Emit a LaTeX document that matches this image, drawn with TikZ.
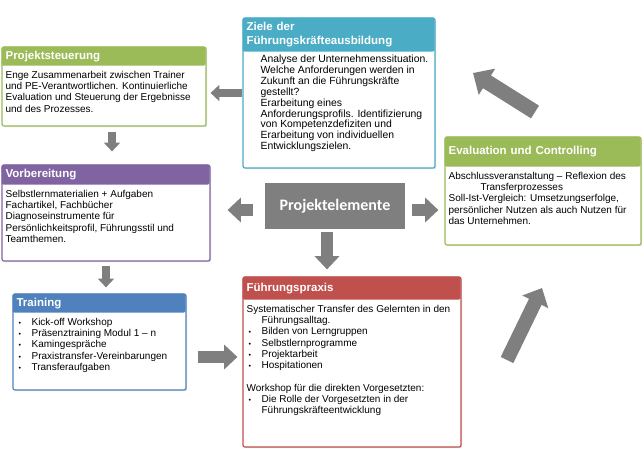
\documentclass[tikz,border=0pt]{standalone}
\usepackage{fontspec}
\setmainfont{Liberation Sans}
\newfontfamily\calfont{Carlito}
\usetikzlibrary{arrows.meta,shadows}
\definecolor{cgreen}{HTML}{9BBB59}
\definecolor{cpurple}{HTML}{8064A2}
\definecolor{cblue}{HTML}{4F81BD}
\definecolor{cred}{HTML}{C0504D}
\definecolor{caqua}{HTML}{4BACC6}
\definecolor{agray}{HTML}{7F7F7F}
\newcommand\bul{\hspace*{2pt}\makebox[13pt][l]{\scriptsize\textbullet}}
\begin{document}
\begin{tikzpicture}[x=1pt, y=1pt,
    frame/.style={rectangle, draw=#1, line width=1.2pt, fill=white, rounded corners=2pt,
        drop shadow={shadow xshift=1.2pt, shadow yshift=-1.2pt, opacity=.25}},
    head/.style={rectangle, fill=#1, text=white, rounded corners=2pt, inner xsep=4pt, inner ysep=0pt,
        anchor=north west, align=left, font=\fontsize{11.5}{14}\selectfont\bfseries},
    body/.style={anchor=north west, inner xsep=4pt, inner ysep=5pt, align=left, font=\fontsize{10}{11.3}\selectfont},
    elem/.style={rectangle, fill=agray, text=white, minimum width=140pt, minimum height=46pt,
        font=\calfont\fontsize{16}{18}\selectfont\bfseries},
    barrow/.style={draw=agray, line width=#1, -{Triangle[width=0pt 2, length=0pt 1.1]}}
]
    \useasboundingbox (0,0) rectangle (644,-448);

    % Projektsteuerung
    \node[frame=cgreen, minimum width=204pt, minimum height=79pt] (steuer) at (104,-86.5) {};
    \node[head=cgreen, text width=196pt, minimum height=19pt] (steuer-t) at (steuer.north west) {Projektsteuerung};
    \node[body] (steuer-b) at (steuer-t.south west) {Enge Zusammenarbeit zwischen Trainer\\ und PE-Verantwortlichen. Kontinuierliche\\ Evaluation und Steuerung der Ergebnisse\\ und des Prozesses.};

    % Vorbereitung
    \node[frame=cpurple, minimum width=208pt, minimum height=96pt] (vorb) at (106,-213) {};
    \node[head=cpurple, text width=200pt, minimum height=20pt] (vorb-t) at (vorb.north west) {Vorbereitung};
    \node[body] (vorb-b) at (vorb-t.south west) {Selbstlernmaterialien + Aufgaben\\ Fachartikel, Fachbücher\\ Diagnoseinstrumente für\\ Persönlichkeitsprofil, Führungsstil und\\ Teamthemen.};

    % Training
    \node[frame=cblue, minimum width=173pt, minimum height=96pt] (train) at (99.5,-342) {};
    \node[head=cblue, text width=165pt, minimum height=19pt] (train-t) at (train.north west) {Training};
    \node[body] (train-b) at (train-t.south west) {\bul Kick-off Workshop\\ \bul Präsenztraining Modul 1 – n\\ \bul Kamingespräche\\ \bul Praxistransfer-Vereinbarungen\\ \bul Transferaufgaben};

    % Ziele
    \node[frame=caqua, minimum width=192pt, minimum height=150pt] (ziele) at (339,-93) {};
    \node[head=caqua, text width=184pt, minimum height=34pt] (ziele-t) at (ziele.north west) {Ziele der\\ Führungskräfteausbildung};
    \node[body, xshift=14pt, inner ysep=3pt, font=\fontsize{10.4}{10.9}\selectfont] (ziele-b) at (ziele-t.south west) {Analyse der Unternehmenssituation.\\ Welche Anforderungen werden in\\ Zukunft an die Führungskräfte\\ gestellt?\\ Erarbeitung eines\\ Anforderungsprofils. Identifizierung\\ von Kompetenzdefiziten und\\ Erarbeitung von individuellen\\ Entwicklungszielen.};

    % Evaluation
    \node[frame=cgreen, minimum width=196pt, minimum height=108pt] (eval) at (543,-191) {};
    \node[head=cgreen, text width=188pt, minimum height=30pt] (eval-t) at (eval.north west) {Evaluation und Controlling};
    \node[body] (eval-b) at (eval-t.south west) {Abschlussveranstaltung – Reflexion des\\ \hspace*{32pt}Transferprozesses\\ Soll-Ist-Vergleich: Umsetzungserfolge,\\ persönlicher Nutzen als auch Nutzen für\\ das Unternehmen.};

    % Führungspraxis
    \node[frame=cred, minimum width=218pt, minimum height=170pt] (praxis) at (352,-362) {};
    \node[head=cred, text width=210pt, minimum height=23pt] (praxis-t) at (praxis.north west) {Führungspraxis};
    \node[body] (praxis-b) at (praxis-t.south west) {Systematischer Transfer des Gelernten in den\\ \hspace*{15pt}Führungsalltag.\\ \bul Bilden von Lerngruppen\\ \bul Selbstlernprogramme\\ \bul Projektarbeit\\ \bul Hospitationen\\[11.3pt] Workshop für die direkten Vorgesetzten:\\ \bul Die Rolle der Vorgesetzten in der\\ \hspace*{15pt}Führungskräfteentwicklung};

    % Projektelemente
    \node[elem] (elem) at (335,-206) {Projektelemente};

    % arrows
    \draw[barrow=8pt, shorten >=4pt] (ziele.west) -- (ziele.west -| steuer.east);
    \draw[barrow=8pt, shorten <=5pt, shorten >=13pt] ([xshift=8pt]steuer.south) -- ([xshift=8pt]steuer.south |- vorb.north);
    \draw[barrow=8pt, shorten <=4pt, shorten >=6pt] (vorb.south) -- (vorb.south |- train.north);
    \draw[barrow=12pt, shorten <=11pt, shorten >=5pt] ([yshift=-15pt]train.east) -- ([yshift=-15pt]train.east -| praxis.west);
    \draw[barrow=12pt, shorten <=12pt, shorten >=17pt] ([yshift=-4pt]elem.west) -- ([yshift=-4pt]elem.west -| vorb.east);
    \draw[barrow=12pt, shorten <=7pt, shorten >=6pt] ([yshift=-4pt]elem.east) -- ([yshift=-4pt]elem.east -| eval.west);
    \draw[barrow=12pt, shorten <=3pt, shorten >=7pt] ([xshift=-8pt]elem.south) -- ([xshift=-8pt]elem.south |- praxis.north);
    \coordinate (up-tail) at (535,-112);
    \coordinate (up-tip) at (473,-73);
    \draw[barrow=15pt] (up-tail) -- (up-tip);
    \coordinate (lo-tail) at (507,-360);
    \coordinate (lo-tip) at (542,-288);
    \draw[barrow=14pt] (lo-tail) -- (lo-tip);
\end{tikzpicture}
\end{document}
